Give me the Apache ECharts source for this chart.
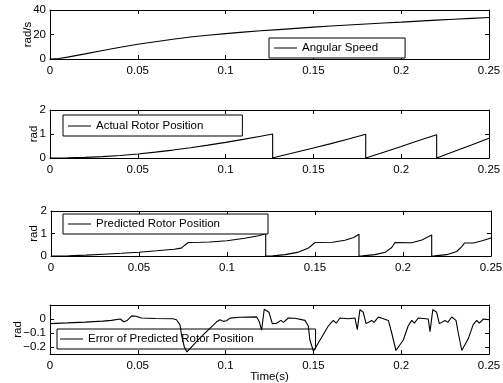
<!DOCTYPE html>
<html>
<head>
<meta charset="utf-8">
<script src="https://cdn.jsdelivr.net/npm/echarts@6/dist/echarts.min.js"></script>
<style>html,body{margin:0;padding:0;background:#fff}#c{width:503px;height:383px}</style>
</head>
<body>
<div id="c"></div>
<script>
// ---- data ----
const xTicks = [0, 0.05, 0.1, 0.15, 0.2, 0.25];
const errTicks = [-0.2, -0.1, 0];

const speedT = [0,0.005,0.01,0.02,0.03,0.04,0.05,0.06,0.07,0.08,0.09,0.1,0.11,0.12,0.13,0.14,0.15,0.16,0.17,0.18,0.19,0.2,0.21,0.22,0.23,0.24,0.25];
const speedV = [0,0.4,1.5,4.2,7,9.6,12,14.1,16.1,17.9,19.4,20.7,21.9,23,24,25,26,26.9,27.8,28.6,29.4,30.1,30.9,31.7,32.5,33.2,33.9];

const actualT = [0,0.01,0.02,0.03,0.04,0.05,0.06,0.07,0.08,0.09,0.1,0.11,0.12,0.1268, 0.1268,0.13,0.14,0.15,0.16,0.17,0.1798, 0.1798,0.19,0.2,0.21,0.2202, 0.2202,0.23,0.24,0.25];
const actualV = [0,0.005,0.024,0.058,0.106,0.168,0.243,0.33,0.43,0.537,0.652,0.775,0.905,1.0, 0,0.06,0.24,0.42,0.6,0.79,0.99, 0,0.24,0.48,0.73,0.97, 0,0.27,0.54,0.82];

const predT = [0,0.01,0.02,0.03,0.04,0.05,0.06,0.07,0.074,0.076,0.078,0.085,0.09,0.1,0.11,0.118,0.122, 0.122,0.126,0.133,0.14,0.146,0.1485,0.15,0.16,0.167,0.172,0.175, 0.175,0.177,0.184,0.19,0.1936,0.1955,0.205,0.2107,0.2163, 0.2163,0.218,0.2248,0.2305,0.2334,0.235,0.24,0.245,0.25];
const predV = [0,0.01,0.04,0.08,0.12,0.17,0.23,0.3,0.35,0.48,0.6,0.61,0.62,0.68,0.79,0.9,1.0, 0,0.005,0.06,0.16,0.34,0.5,0.6,0.61,0.7,0.82,0.97, 0,0.005,0.06,0.17,0.38,0.6,0.59,0.71,0.93, 0,0.005,0.06,0.2,0.42,0.58,0.58,0.68,0.8];

const errT = [0,0.01,0.02,0.03,0.035,0.04,0.042,0.044,0.0465,0.049,0.052,0.06,0.07,0.072,0.074,0.075,0.0765,0.078,0.085,0.09,0.0949,0.0968,0.0987,0.1005,0.1025,0.108,0.1177,0.1192,0.1205,0.122,0.1247,0.1266,0.129,0.1315,0.133,0.1357,0.1395,0.1452,0.1471,0.148,0.15,0.1538,0.1585,0.1613,0.163,0.1651,0.17,0.1737,0.175,0.1765,0.1784,0.18,0.1832,0.1845,0.187,0.1927,0.1946,0.197,0.2012,0.204,0.206,0.2075,0.2097,0.2154,0.2164,0.218,0.2202,0.2217,0.225,0.2265,0.2288,0.2312,0.2325,0.2345,0.2382,0.241,0.243,0.2445,0.2468,0.25];
const errV = [-0.033,-0.028,-0.022,-0.015,-0.01,0,-0.02,-0.01,0.022,0.02,0.007,0.004,0.002,-0.005,-0.04,-0.12,-0.2,-0.235,-0.14,-0.08,-0.02,-0.005,-0.017,-0.012,0.006,0.012,0.015,-0.02,-0.08,0.07,0.048,-0.033,-0.03,-0.01,-0.024,0.007,0.005,-0.01,-0.05,-0.15,-0.23,-0.15,-0.05,-0.01,-0.03,0.007,0.002,0.007,-0.076,0.067,0.048,-0.033,-0.01,-0.024,0.014,-0.01,-0.1,-0.225,-0.15,-0.048,-0.01,-0.03,0.007,0,-0.09,0.067,0.048,-0.033,-0.01,-0.024,0.014,-0.01,-0.1,-0.225,-0.14,-0.04,-0.01,-0.03,0,-0.005];

const names = ['Angular Speed', 'Actual Rotor Position', 'Predicted Rotor Position', 'Error of Predicted Rotor Position'];
const yNames = ['rad/s', 'rad', 'rad', 'rad'];
const xName = 'Time(s)';

// ---- chart ----
const FONT = "'Liberation Sans', Arial, Helvetica, sans-serif";
const zip = (t, v) => t.map((x, i) => [x, v[i]]);
const seriesData = [zip(speedT, speedV), zip(actualT, actualV), zip(predT, predV), zip(errT, errV)];

const grids = [
  {left: 50, top: 10, width: 439, height: 49},
  {left: 50, top: 110, width: 439, height: 48},
  {left: 51, top: 211, width: 440, height: 45},
  {left: 50, top: 305, width: 439, height: 49}
];
const yRanges = [
  {min: 0, max: 40, interval: 20},
  {min: 0, max: 2, interval: 1},
  {min: 0, max: 2, interval: 1},
  {min: -0.25, max: 0.1, custom: errTicks}
];
const yNameGaps = [16.5, 10, 11, 26];
const legendBoxes = [
  {left: 269, top: 38, padding: [3, 27, 3, 5], bg: '#fff'},
  {left: 63, top: 115, padding: [4, 39, 3, 5], bg: '#fff'},
  {left: 63, top: 214, padding: [3, 48, 3, 5], bg: '#fff'},
  {left: 57, top: 329, padding: [3, 62, 3, 3], bg: 'transparent'}
];

const line = {show: true, onZero: false, lineStyle: {color: '#000', width: 1}};
const tick = {show: true, inside: true, length: 4, lineStyle: {color: '#000', width: 1}};
const lab = {color: '#000', fontSize: 11.5, fontFamily: FONT};

const xAxis = [], yAxis = [], series = [], legend = [];
grids.forEach((g, i) => {
  xAxis.push({
    gridIndex: i, type: 'value', position: 'bottom', min: 0, max: 0.25, interval: 0.05,
    axisLine: line, axisTick: tick, splitLine: {show: false},
    axisLabel: Object.assign({margin: 6, showMinLabel: true, showMaxLabel: true}, lab),
    name: i === 3 ? xName : '', nameLocation: 'middle', nameGap: 17, nameMoveOverlap: false,
    nameTextStyle: lab
  });
  xAxis.push({
    gridIndex: i, type: 'value', position: 'top', min: 0, max: 0.25, interval: 0.05,
    axisLine: line, axisTick: tick, splitLine: {show: false}, axisLabel: {show: false}
  });
  const r = yRanges[i];
  const yBase = {gridIndex: i, type: 'value', min: r.min, max: r.max, splitLine: {show: false}, axisLine: line};
  if (r.interval) yBase.interval = r.interval;
  const tk = Object.assign({}, tick);
  if (r.custom) tk.customValues = r.custom;
  const lb = Object.assign({margin: 4, showMinLabel: true, showMaxLabel: true,
    formatter: v => String(Math.round(v * 100) / 100).replace('-', '\u2212')}, lab);
  if (r.custom) lb.customValues = r.custom;
  yAxis.push(Object.assign({}, yBase, {
    position: 'left', axisTick: tk, axisLabel: lb,
    name: yNames[i], nameLocation: 'middle', nameGap: yNameGaps[i], nameMoveOverlap: false,
    nameTextStyle: lab
  }));
  yAxis.push(Object.assign({}, yBase, {position: 'right', axisTick: tk, axisLabel: {show: false}}));
  series.push({
    name: names[i], type: 'line', xAxisIndex: 2 * i, yAxisIndex: 2 * i,
    data: seriesData[i], symbol: 'none', showSymbol: false, smooth: false,
    lineStyle: {color: '#000', width: 1.1}, itemStyle: {color: '#000'}, clip: true
  });
  const b = legendBoxes[i];
  legend.push({
    data: [names[i]], left: b.left, top: b.top, padding: b.padding,
    icon: 'rect', itemWidth: 23, itemHeight: 1, itemGap: 0,
    itemStyle: {color: '#000'},
    borderColor: '#000', borderWidth: 1, borderRadius: 0, backgroundColor: b.bg,
    selectedMode: false, textStyle: Object.assign({lineHeight: 14}, lab)
  });
});

const chart = echarts.init(document.getElementById('c'), null, {renderer: 'canvas'});
chart.setOption({
  animation: false,
  backgroundColor: '#fff',
  grid: grids.map(g => Object.assign({containLabel: false, outerBoundsMode: 'none'}, g)),
  xAxis, yAxis, series, legend
});
</script>
</body>
</html>
